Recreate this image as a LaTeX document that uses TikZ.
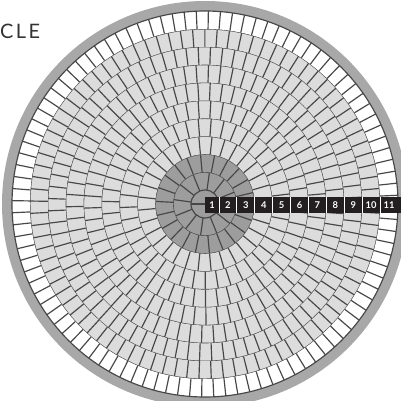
\documentclass[tikz,border=0pt]{standalone}
\usepackage{fontspec}
\setsansfont{Lato}
\usepackage{xcolor}
\definecolor{jointgrey}{HTML}{474747}
\definecolor{paverlight}{HTML}{dcdcdc}
\definecolor{paverdark}{HTML}{9d9d9d}
\definecolor{rimgrey}{HTML}{a8a8a8}
\definecolor{stripblack}{HTML}{231f20}
\definecolor{titlegrey}{HTML}{333333}
\usepackage{tikz}
\usetikzlibrary{positioning}

\begin{document}
\begin{tikzpicture}[x=0.03cm, y=-0.03cm,
  joint/.style={draw=jointgrey, line width=1pt},
  ringnum/.style={font=\sffamily\bfseries\fontsize{8}{8}\selectfont, text=white, inner sep=0pt}
]
\useasboundingbox (0,0) rectangle (401,400);
\clip (0,0) rectangle (401,400);
\fill[white] (0,0) rectangle (401,400);

% Title
\node[anchor=west, inner sep=0pt, text=titlegrey,
  font=\sffamily\fontsize{17}{17}\selectfont\addfontfeatures{LetterSpace=12}] (title) at (0,31) {CLE};

\begin{scope}[shift={(205,204)}]
% Rim
\fill[rimgrey] (0,0) circle (203);
\fill[white] (0,0) circle (193);

% Rings of pavers
\foreach \k/\n/\off/\col in {2/12/8/paverdark, 3/22/3/paverdark, 4/32/6/paverlight,
    5/41/2/paverlight, 6/51/5/paverlight, 7/61/1/paverlight, 8/70/4/paverlight,
    9/80/2/paverlight, 10/89/3/paverlight, 11/100/1/white} {
  \pgfmathsetmacro\rin{14+17.9*(\k-2)}
  \pgfmathsetmacro\rout{14+17.9*(\k-1)}
  \pgfmathsetmacro\da{360/\n}
  \fill[\col, even odd rule] (0,0) circle (\rout) (0,0) circle (\rin);
  \foreach \i in {1,...,\n}
    \draw[joint] ({\off+\da*\i}:\rin) -- ({\off+\da*\i}:\rout);
  \draw[joint] (0,0) circle (\rout);
}

% Centre stone
\fill[paverdark] (0,0) circle (14);
\draw[joint] (0,0) circle (14);
\draw[joint] (0,0) -- (180:14);

% Ring numbers
\fill[stripblack] (0,-7) rectangle (200,9);
\node[ringnum] (lab1) at (7,1) {1};
\foreach \k in {2,...,11} {
  \pgfmathsetmacro\rmid{14+17.9*(\k-1.5)}
  \node[ringnum] (lab\k) at (\rmid,1) {\k};
}
\foreach \k in {1,...,10} {
  \pgfmathsetmacro\rsep{14+17.9*(\k-1)}
  \draw[white, line width=0.7pt] (\rsep,-7) -- (\rsep,9);
}
\end{scope}
\end{tikzpicture}
\end{document}
